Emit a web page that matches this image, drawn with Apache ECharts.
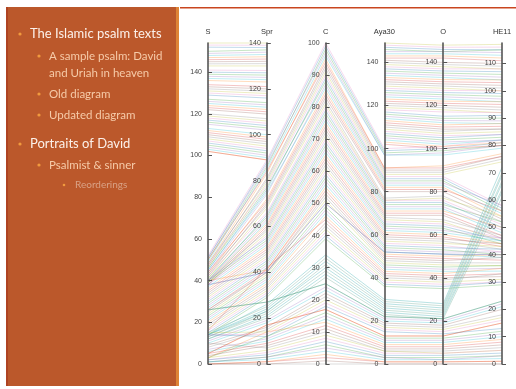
<!DOCTYPE html>
<html>
<head>
<meta charset="utf-8">
<script src="https://cdn.jsdelivr.net/npm/echarts@6/dist/echarts.min.js"></script>
<style>
html, body { margin: 0; padding: 0; background: #ffffff; }
#chart { width: 516px; height: 389px; }
</style>
</head>
<body>
<div id="chart"></div>
<script>
// Axis names, left to right
const axisNames = ['S', 'Spr', 'C', 'Aya30', 'O', 'HE11'];

// Position of each psalm in each ordering (null = psalm absent from that ordering)
const S = [52,51,50,51,49,48,50,47,48,46, 47,45,46,44,45,43,44,42,43,41, 42,40,41,40,39,40,39,38,40,39,
  38,40,39,38,37,36,35,34,33,32, 31,30,29,28,27,40,26,25,26,24, 38,38,23,22,21,20,16,19,18,17,
  16,15,14,14,15,14,13,14,13,12, 12,26,26,11,10,5,5,9,8,15, 14,14,3,7,6,3,5,4,10,3, 2,2,1,1,1,0,0,0,0,
  154,153,152,150,149,148,147,146,145,144, 143,141,140,139,138,137,136,134,133,132,
  131,130,129,127,126,125,124,123,122,120, 119,118,117,116,115,113,112,111,110,109, 108,107,106,105,104,103,102,102];
const Spr = [89,88,86,87,85,83,84,81,80,79, 78,76,77,74,75,72,71,70,69,68, 66,65,64,63,62,61,60,59,58,57,
  56,55,54,53,52,51,50,49,48,47, 46,45,44,43,42,41,41,40,40,39, 40,40,38,37,36,35,42,34,33,32,
  31,30,29,26,25,24,23,23,22,21, 20,27,27,19,18,17,17,16,15,14, 13,12,12,11,10,14,9,8,7,6, 5,4,3,3,2,1,1,0,0,
  140,139,138,137,136,135,134,133,132,131, 130,128,127,126,125,124,123,121,120,119,
  118,117,116,114,113,112,111,110,109,107, 106,105,104,103,102,100,99,98,97,96, 95,94,93,92,91,90,89,89];
const C = [100,99,98,97,96,95,94,93,92,91, 90,89,88,87,86,85,84,83,82,81, 80,79,78,77,76,75,74,73,72,71,
  70,69,68,67,66,65,64,63,62,61, 60,59,58,57,56,55,54,53,52,51, 50,50,49,48,47,46,45,44,43,42,
  41,40,39,34,33,32,31,30,29,28, 27,25,25,24,23,17,17,22,21,20, 19,18,16,15,14,13,12,11,10,9, 8,7,6,5,4,3,2,1,0,
  null,null,null,null,null,null,null,null,null,null, null,null,null,null,null,null,null,null,null,null,
  null,null,null,null,null,null,null,null,null,null, null,null,null,null,null,null,null,null,null,null,
  null,null,null,null,null,null,null,null];
const Aya30 = [100,99,98,97,97,91,91,90,89,88, 87,86,85,84,83,82,81,80,77,76, 76,75,74,73,72,71,70,69,68,67,
  66,65,64,63,62,61,60,59,58,57, 56,55,54,53,52,51,50,49,48,47, 52,52,46,45,44,43,42,41,40,39,
  38,37,36,30,29,28,27,26,25,24, 23,22,22,21,20,13,13,19,18,17, 16,15,12,11,10,9,8,7,6,6, 5,4,3,3,2,1,1,0,0,
  149,148,147,146,145,144,143,142,141,140, 139,138,137,136,135,134,133,132,131,130,
  129,128,127,126,125,124,123,122,121,120, 119,118,117,116,115,114,113,112,111,110, 109,108,107,106,105,104,103,102];
const O = [101,100,99,98,97,92,91,90,89,88, 87,86,85,84,83,82,81,80,78,77, 76,75,74,73,72,71,70,69,67,66,
  65,64,63,62,61,60,59,58,57,56, 55,54,53,52,51,50,49,48,47,46, 51,51,45,44,43,42,41,40,39,38,
  37,36,35,28,27,26,25,24,23,22, 21,21,21,20,19,13,13,18,17,16, 15,14,12,11,10,9,8,7,6,5, 5,4,3,2,2,1,1,0,0,
  148,147,146,145,145,144,143,142,140,139, 138,137,136,135,134,133,132,131,130,129,
  128,127,126,125,124,123,122,121,120,119, 118,117,115,114,113,112,111,110,109,108, 107,106,105,104,103,102,101,100];
const HE11 = [82,81,80,80,79,77,76,76,75,74, 58,57,56,58,55,54,56,53,52,54, 51,50,52,49,48,50,47,46,47,45,
  46,45,44,46,45,44,43,44,42,43, 41,42,40,41,39,40,38,39,37,36, 40,40,36,35,34,35,33,32,33,31,
  30,30,29,72,70,69,67,66,64,63, 61,23,23,22,21,15,15,20,18,17, 16,13,12,11,10,9,8,7,6,5, 5,4,3,3,2,1,1,0,0,
  117,116,115,115,114,113,112,111,110,109, 108,108,107,106,105,104,104,103,102,101,
  100,100,99,98,97,96,96,95,94,93, 92,92,91,90,89,88,88,87,86,86, 85,84,84,83,82,82,81,80];

// Axis extents and tick steps
const axisMax = [154, 140, 100, 149, 149, 117.5];
const axisStep = [20, 20, 10, 20, 20, 10];
const showTopLabel = [false, true, true, false, false, false];

const palette = ['#e377c2', '#1f77b4', '#2ca02c', '#9467bd', '#17becf',
                 '#ff7f0e', '#d62728', '#8c564b', '#7f7f7f', '#bcbd22'];

// Build the rows; a psalm missing from ordering C is drawn as two separate pieces
const rows = [];
for (let i = 0; i < S.length; i++) {
  const color = palette[i % palette.length];
  if (C[i] == null) {
    rows.push({ value: [S[i], Spr[i], null, null, null, null], lineStyle: { color } });
    rows.push({ value: [null, null, null, Aya30[i], O[i], HE11[i]], lineStyle: { color } });
  } else if (HE11[i] - O[i] > 25) {
    rows.push({ value: [S[i], Spr[i], C[i], Aya30[i], O[i], HE11[i]],
                lineStyle: { color: i % 2 ? '#4fb6b8' : '#7fb3a0', opacity: 0.4 } });
  } else {
    rows.push({ value: [S[i], Spr[i], C[i], Aya30[i], O[i], HE11[i]], lineStyle: { color } });
  }
}

const chart = echarts.init(document.getElementById('chart'), null, { renderer: 'canvas' });

const bulletColor = '#F19A3E';
const panelText = [
  { t: 'The Islamic psalm texts', x: 30, y: 34, size: 13, fill: '#FCF1EA', bx: 20 },
  { t: 'A sample psalm: David', x: 49, y: 56, size: 11.5, fill: '#F6CBA9', bx: 39 },
  { t: 'and Uriah in heaven', x: 49, y: 73, size: 11.5, fill: '#F6CBA9', bx: null },
  { t: 'Old diagram', x: 49, y: 94, size: 11.5, fill: '#F6CBA9', bx: 39 },
  { t: 'Updated diagram', x: 49, y: 115, size: 11.5, fill: '#F6CBA9', bx: 39 },
  { t: 'Portraits of David', x: 30, y: 144, size: 13, fill: '#FCF1EA', bx: 20 },
  { t: 'Psalmist & sinner', x: 49, y: 165, size: 11.5, fill: '#F6CBA9', bx: 39 },
  { t: 'Reorderings', x: 75, y: 185, size: 10, fill: '#D9A286', bx: 64 }
];

const graphics = [
  { type: 'rect', z: -10, shape: { x: 180, y: 7, width: 336, height: 1.5 }, style: { fill: '#C9461F' } },
  { type: 'rect', z: -10, shape: { x: 6, y: 7, width: 171, height: 379 }, style: { fill: '#BB582B' } },
  { type: 'rect', z: -9, shape: { x: 6, y: 7, width: 2, height: 379 }, style: { fill: '#AE4322' } },
  { type: 'rect', z: -9, shape: { x: 176, y: 7, width: 3, height: 379 }, style: { fill: '#DE8436' } }
];
panelText.forEach(p => {
  if (p.bx != null) {
    graphics.push({ type: 'circle', z: 5, shape: { cx: p.bx, cy: p.y, r: p.size > 10 ? 1.6 : 1.3 }, style: { fill: bulletColor } });
  }
  graphics.push({
    type: 'text', z: 5, x: p.x, y: p.y,
    style: { text: p.t, fill: p.fill, font: p.size + 'px Lato, "Open Sans", sans-serif', textVerticalAlign: 'middle' }
  });
});

const option = {
  animation: false,
  backgroundColor: '#ffffff',
  graphic: graphics,
  parallel: {
    left: 208, right: 14, top: 43, bottom: 25,
    parallelAxisDefault: {
      type: 'value',
      nameLocation: 'end',
      nameGap: 7,
      nameTextStyle: { color: '#333', fontSize: 7.5, fontFamily: 'Liberation Sans, Arial, sans-serif' },
      axisLine: { lineStyle: { color: '#555', width: 1.6 } },
      axisTick: { inside: true, length: 4, lineStyle: { color: '#555', width: 1 } },
      axisLabel: { inside: false, color: '#444', fontSize: 7, margin: -6, align: 'right', fontFamily: 'Liberation Sans, Arial, sans-serif' },
      splitLine: { show: false }
    }
  },
  parallelAxis: axisNames.map((name, d) => ({
    dim: d,
    name: name,
    min: 0,
    max: axisMax[d],
    interval: axisStep[d],
    axisLabel: { showMaxLabel: showTopLabel[d] }
  })),
  series: [
    {
      type: 'parallel',
      silent: true,
      lineStyle: { width: 1, opacity: 0.27 },
      emphasis: { disabled: true },
      data: rows
    }
  ]
};

chart.setOption(option);
</script>
</body>
</html>
